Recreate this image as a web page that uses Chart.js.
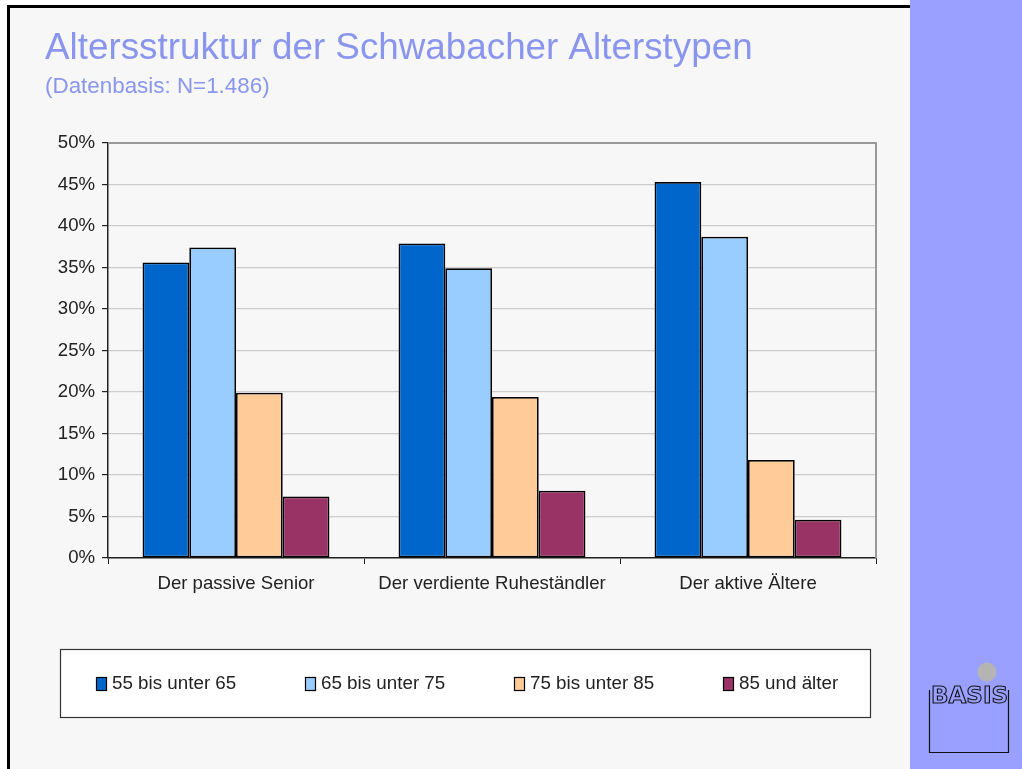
<!DOCTYPE html>
<html>
<head>
<meta charset="utf-8">
<script src="https://cdn.jsdelivr.net/npm/chart.js@4"></script>
<style>
  html, body { margin: 0; padding: 0; background: #ffffff; }
  #wrap { position: absolute; left: 0; top: 0; width: 1022px; height: 769px; }
</style>
</head>
<body>
<div id="wrap"><canvas id="altersChart" width="1022" height="769"></canvas></div>
<script>
// Daten (Prozent)
var typen = ['Der passive Senior', 'Der verdiente Ruheständler', 'Der aktive Ältere'];
var altersgruppen = ['55 bis unter 65', '65 bis unter 75', '75 bis unter 85', '85 und älter'];
var werte55 = [35.6, 37.9, 45.3];
var werte65 = [37.4, 34.9, 38.7];
var werte75 = [19.9, 19.4, 11.8];
var werte85 = [7.4, 8.1, 4.6];
var yTicks = [0, 5, 10, 15, 20, 25, 30, 35, 40, 45, 50];
var farben = ['#0066cc', '#99ccff', '#ffcc99', '#993366'];

var schrift = '"Liberation Sans", Arial, Helvetica, sans-serif';

// Hintergrund, Rahmen, Titel, Legende und Logo
var seitePlugin = {
    id: 'seite',
    beforeDraw: function (chart) {
        var ctx = chart.ctx;
        ctx.save();
        ctx.fillStyle = '#ffffff';
        ctx.fillRect(0, 0, 1022, 769);
        ctx.fillStyle = '#f7f7f7';
        ctx.fillRect(8, 7, 902, 762);
        ctx.fillStyle = '#000000';
        ctx.fillRect(7, 5, 903, 3);
        ctx.fillRect(7, 5, 3, 764);
        ctx.fillStyle = '#99a0ff';
        ctx.fillRect(910, 0, 112, 769);

        // Titel
        ctx.fillStyle = '#8a96ee';
        ctx.textBaseline = 'alphabetic';
        ctx.textAlign = 'left';
        ctx.font = '36.8px ' + schrift;
        ctx.fillText('Altersstruktur der Schwabacher Alterstypen', 45, 59);
        ctx.font = '22.4px ' + schrift;
        ctx.fillText('(Datenbasis: N=1.486)', 45, 93);

        // Logo
        ctx.fillStyle = '#b4b4b4';
        ctx.beginPath();
        ctx.arc(987, 672, 9.5, 0, Math.PI * 2);
        ctx.fill();
        ctx.strokeStyle = '#111111';
        ctx.lineWidth = 1.2;
        ctx.beginPath();
        ctx.moveTo(929.5, 690);
        ctx.lineTo(929.5, 752.5);
        ctx.lineTo(1008.5, 752.5);
        ctx.lineTo(1008.5, 690);
        ctx.stroke();
        ctx.font = 'bold 23px "DejaVu Sans Condensed", ' + schrift;
        ctx.textBaseline = 'top';
        var breite = ctx.measureText('BASIS').width;
        ctx.translate(931, 686);
        ctx.scale(77 / breite, 1);
        ctx.lineWidth = 1;
        ctx.strokeText('BASIS', 0, 0);
        ctx.restore();
    },
    afterDraw: function (chart) {
        var ctx = chart.ctx;
        var a = chart.chartArea;
        ctx.save();
        // Rahmen der Zeichenfläche oben und rechts
        ctx.strokeStyle = '#9a9a9a';
        ctx.lineWidth = 2;
        ctx.beginPath();
        ctx.moveTo(a.left, a.top);
        ctx.lineTo(a.right, a.top);
        ctx.lineTo(a.right, a.bottom);
        ctx.stroke();

        // Legende
        ctx.fillStyle = '#ffffff';
        ctx.fillRect(60, 649, 810, 68);
        ctx.strokeStyle = '#333333';
        ctx.lineWidth = 1.2;
        ctx.strokeRect(60.5, 649.5, 810, 68);
        ctx.font = '18.8px ' + schrift;
        ctx.textBaseline = 'middle';
        ctx.textAlign = 'left';
        chart.data.datasets.forEach(function (ds, i) {
            var x = 96 + i * 209;
            ctx.fillStyle = ds.backgroundColor;
            ctx.fillRect(x, 677, 10, 13);
            ctx.strokeStyle = '#000000';
            ctx.lineWidth = 1.2;
            ctx.strokeRect(x + 0.5, 677.5, 10, 13);
            ctx.fillStyle = '#222222';
            ctx.fillText(ds.label, x + 16, 684);
        });
        ctx.restore();
    }
};

var datensaetze = [werte55, werte65, werte75, werte85].map(function (werte, i) {
    return {
        label: altersgruppen[i],
        data: werte,
        backgroundColor: farben[i],
        borderColor: '#000000',
        borderWidth: 1.7,
        borderSkipped: false,
        categoryPercentage: 0.73,
        barPercentage: 1.0
    };
});

var altersChartCanvas = document.getElementById('altersChart').getContext('2d');
var altersChart = new Chart(altersChartCanvas, {
    type: 'bar',
    data: {
        labels: typen,
        datasets: datensaetze
    },
    options: {
        responsive: false,
        animation: false,
        layout: {
            padding: { left: 0, top: 143, right: 146, bottom: 0 }
        },
        plugins: {
            legend: { display: false },
            tooltip: { enabled: false }
        },
        scales: {
            x: {
                afterFit: function (scale) { scale.height = 211; },
                grid: {
                    drawOnChartArea: false,
                    drawTicks: true,
                    tickLength: 6,
                    tickColor: '#222222'
                },
                border: { color: '#222222', width: 1.5 },
                ticks: {
                    color: '#222222',
                    padding: 9,
                    font: { family: schrift, size: 18.6 }
                }
            },
            y: {
                min: 0,
                max: 50,
                afterFit: function (scale) { scale.width = 108; },
                afterBuildTicks: function (scale) {
                    scale.ticks = yTicks.map(function (v) { return { value: v }; });
                },
                grid: {
                    color: '#cccccc',
                    lineWidth: 1.2,
                    tickLength: 6,
                    tickColor: '#222222'
                },
                border: { color: '#222222', width: 1.5 },
                ticks: {
                    color: '#222222',
                    padding: 7,
                    font: { family: schrift, size: 18.6 },
                    callback: function (v) { return v + '%'; }
                }
            }
        }
    },
    plugins: [seitePlugin]
});
</script>
</body>
</html>
